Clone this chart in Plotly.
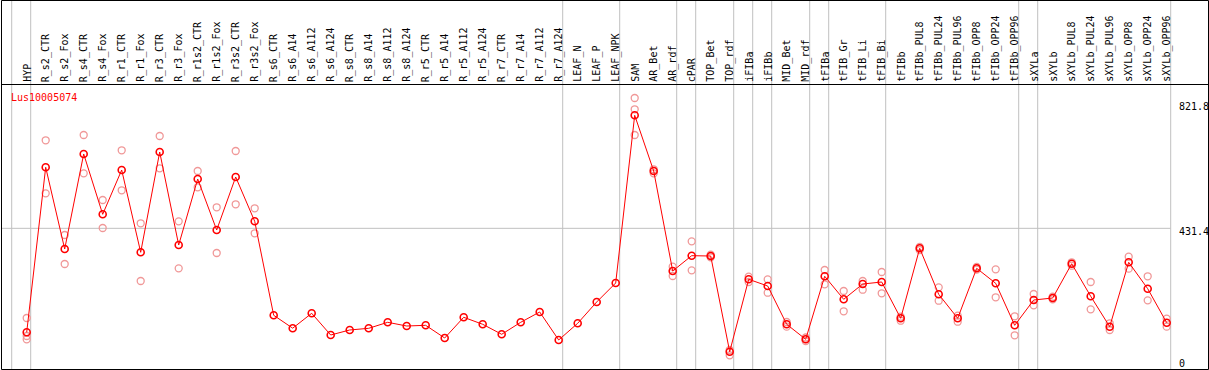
import plotly.graph_objects as go

gene = "Lus10005074"

categories = [
    "HYP", "R_s2_CTR", "R_s2_Fox", "R_s4_CTR", "R_s4_Fox", "R_r1_CTR", "R_r1_Fox",
    "R_r3_CTR", "R_r3_Fox", "R_r1s2_CTR", "R_r1s2_Fox", "R_r3s2_CTR", "R_r3s2_Fox",
    "R_s6_CTR", "R_s6_A14", "R_s6_A112", "R_s6_A124", "R_s8_CTR", "R_s8_A14",
    "R_s8_A112", "R_s8_A124", "R_r5_CTR", "R_r5_A14", "R_r5_A112", "R_r5_A124",
    "R_r7_CTR", "R_r7_A14", "R_r7_A112", "R_r7_A124", "LEAF_N", "LEAF_P", "LEAF_NPK",
    "SAM", "AR_Bet", "AR_rdf", "cPAR", "TOP_Bet", "TOP_rdf", "iFIBa", "iFIBb",
    "MID_Bet", "MID_rdf", "tFIBa", "tFIB_Gr", "tFIB_Li", "tFIB_Bi", "tFIBb",
    "tFIBb_PUL8", "tFIBb_PUL24", "tFIBb_PUL96", "tFIBb_OPP8", "tFIBb_OPP24", "tFIBb_OPP96",
    "sXYLa", "sXYLb", "sXYLb_PUL8", "sXYLb_PUL24", "sXYLb_PUL96", "sXYLb_OPP8",
    "sXYLb_OPP24", "sXYLb_OPP96",
]

mean_values = [
    97.6, 627.3, 365.0, 670.0, 476.4, 618.6, 354.4, 676.4, 377.8, 589.7, 426.0, 596.1, 453.9,
    152.2, 110.8, 158.6, 88.9, 105.0, 110.4, 129.7, 117.8, 120.0, 79.3, 145.7, 123.3,
    91.2, 129.7, 162.8, 72.9, 126.5, 194.9, 255.9,
    794.2, 615.4, 294.4, 343.5, 342.5, 35.3, 267.7, 246.2, 123.3, 75.1, 277.4, 203.5,
    252.6, 259.1, 142.5, 367.3, 219.6, 142.5, 303.0, 254.9, 120.0,
    201.3, 207.7, 317.8, 213.2, 115.6, 322.3, 237.6, 128.4,
]

N = None
rep_a = [
    143.5, 714.0, 410.0, 731.0, 522.3, 681.9, 447.5, 727.8, 453.9, 615.4, 498.9, 679.6, 495.7,
    N, N, N, N, N, N, N, N, N, N, N, N, N, N, N, N, N, N, N,
    849.8, 620.9, 308.2, 389.7, 346.7, 23.8, 276.1, 267.7, 130.7, 80.9, 297.6, 230.2,
    262.3, 291.2, 134.8, 371.4, 242.0, 131.6, 307.2, 299.8, 149.0,
    220.5, 211.9, 322.3, 259.1, 126.5, 340.3, 277.4, 141.3,
]
rep_b = [
    85.7, 543.8, 316.9, 608.0, 432.4, 553.5, 262.3, 624.1, 303.0, 563.1, 352.2, 508.5, 415.4,
    N, N, N, N, N, N, N, N, N, N, N, N, N, N, N, N, N, N, N,
    813.5, 608.0, 278.3, 296.6, 338.4, 40.8, 259.1, 224.7, 115.6, 69.7, 251.7, 165.0,
    234.3, 222.8, 147.7, 361.8, 199.0, 150.9, 298.6, 210.0, 88.0,
    184.3, 203.5, 311.4, 171.4, 105.0, 301.8, 200.3, 115.6,
]
rep_c = [75.1] + [N] * 31 + [731.0] + [N] * 28

group_ends = [-1, 0, 28, 31, 34, 35, 37, 38, 39, 41, 42, 45, 52, 53, 60]

ytick_vals = [0, 431.4, 821.8]
ytick_text = ["0", "431.4", "821.8"]

W, H = 1209, 370
STEP = 19.0
X0PX = 26.7
Y0PX = 362.7
YSCALE = 0.3115

xs = list(range(len(categories)))
FONT = "DejaVu Sans Mono"
REP_COLOR = "#f09898"
LINE_COLOR = "#ff0000"

fig = go.Figure()

for reps in (rep_a, rep_b, rep_c):
    fig.add_trace(go.Scatter(
        x=xs, y=reps, mode="markers",
        marker=dict(symbol="circle-open", size=7, color=REP_COLOR, line=dict(width=1.3, color=REP_COLOR)),
        hoverinfo="skip", showlegend=False,
    ))

fig.add_trace(go.Scatter(
    x=xs, y=mean_values, mode="lines+markers",
    line=dict(color=LINE_COLOR, width=1),
    marker=dict(symbol="circle-open", size=7, color=LINE_COLOR, line=dict(width=1.6, color=LINE_COLOR)),
    showlegend=False,
))

shapes = []
for g in group_ends:
    shapes.append(dict(type="line", xref="x", yref="paper", x0=g + 0.21, x1=g + 0.21,
                       y0=0, y1=1, line=dict(color="#c0c0c0", width=1), layer="below"))
shapes.append(dict(type="line", xref="paper", yref="y", x0=1.5 / W, x1=(X0PX + STEP * (group_ends[-1] + 0.21)) / W,
                   y0=ytick_vals[1], y1=ytick_vals[1], line=dict(color="#c0c0c0", width=1), layer="below"))
shapes.append(dict(type="rect", xref="paper", yref="paper", x0=1.5 / W, x1=1208.5 / W,
                   y0=1 - 369.5 / H, y1=1 - 0.5 / H, line=dict(color="black", width=1)))
shapes.append(dict(type="line", xref="paper", yref="paper", x0=1.5 / W, x1=1208.5 / W,
                   y0=1 - 84.5 / H, y1=1 - 84.5 / H, line=dict(color="black", width=1)))

annotations = []
for i, c in enumerate(categories):
    annotations.append(dict(x=i, y=1 - 84 / H, xref="x", yref="paper", text=c, textangle=-90,
                            xanchor="center", yanchor="bottom", showarrow=False,
                            font=dict(family=FONT, size=10, color="black")))
annotations.append(dict(x=9 / W, y=1 - 97 / H, xref="paper", yref="paper", text=gene,
                        xanchor="left", yanchor="middle", showarrow=False,
                        font=dict(family=FONT, size=10, color="red")))
yshifts = [-0.5, -3.4, 0.5]
for v, t, s in zip(ytick_vals, ytick_text, yshifts):
    annotations.append(dict(x=1177 / W, y=v, xref="paper", yref="y", text=t, yshift=s,
                            xanchor="left", yanchor="middle", showarrow=False,
                            font=dict(family=FONT, size=10, color="black")))

fig.update_layout(
    width=W, height=H,
    margin=dict(l=0, r=0, t=0, b=0),
    paper_bgcolor="white", plot_bgcolor="white",
    xaxis=dict(range=[-X0PX / STEP, (W - X0PX) / STEP], visible=False, fixedrange=True),
    yaxis=dict(range=[-(H - Y0PX) / YSCALE, Y0PX / YSCALE], visible=False, fixedrange=True),
    shapes=shapes, annotations=annotations,
    showlegend=False,
)

fig.write_html("out.html", config={"displayModeBar": False},
               post_script="document.body.style.margin='0px';document.body.style.overflow='hidden';")
